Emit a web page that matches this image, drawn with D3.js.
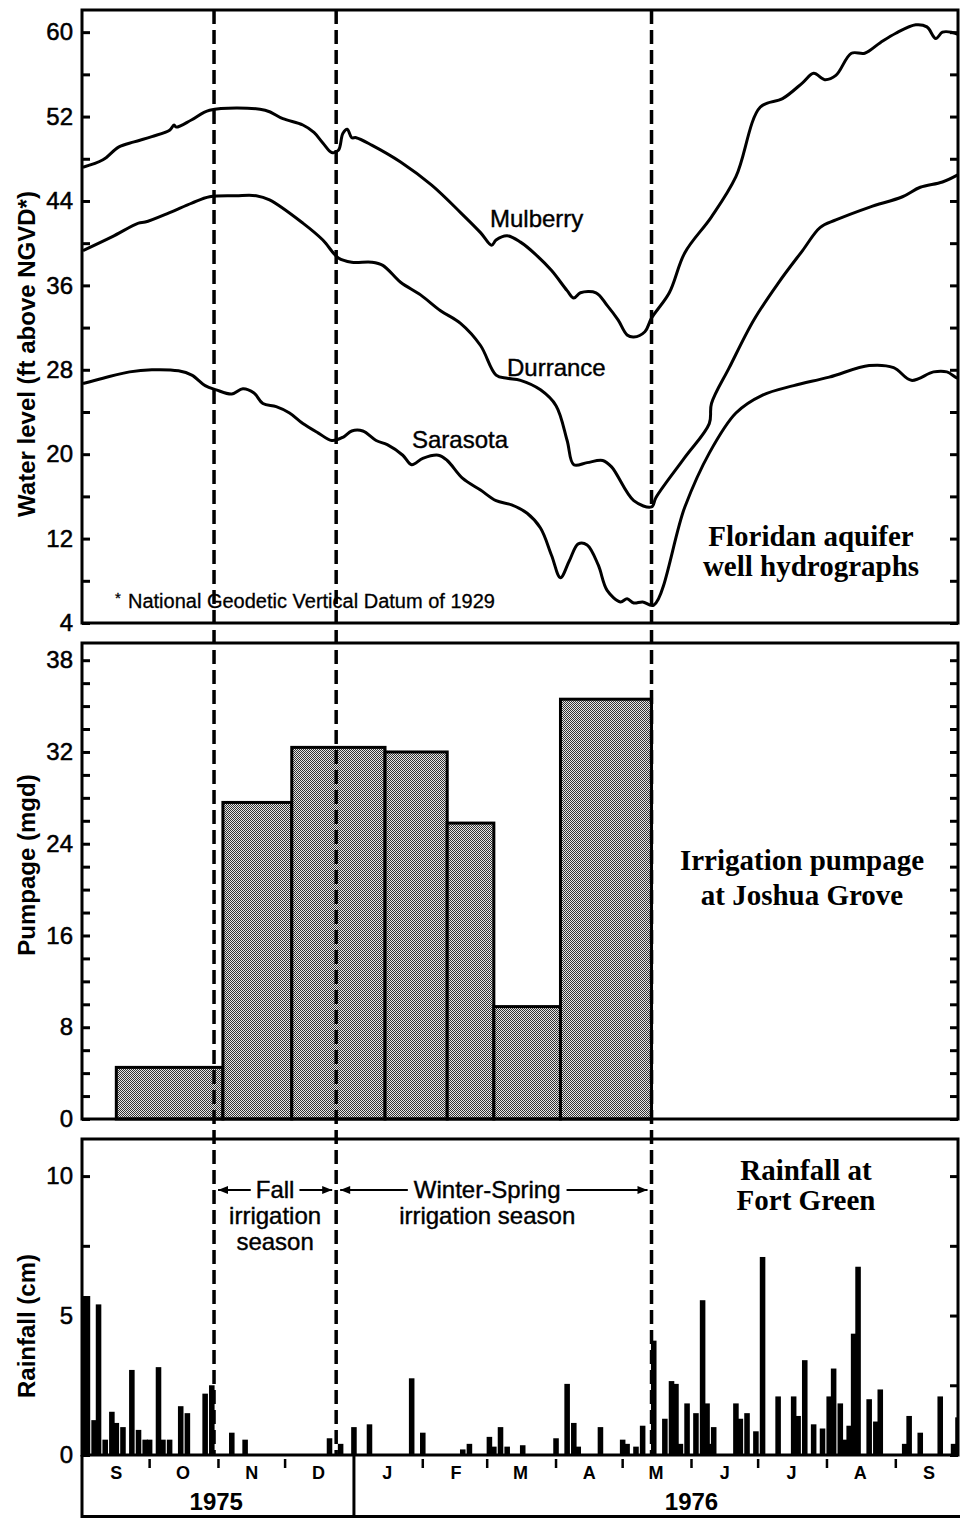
<!DOCTYPE html>
<html><head><meta charset="utf-8">
<script src="https://cdn.jsdelivr.net/npm/d3@7"></script>
<style>body{margin:0;background:#fff} svg{display:block}</style>
</head><body>
<svg id="chart" width="960" height="1518"></svg>
<script>
// ---------------- DATA ----------------
const mulberry = [
["1975-09-01",47.2],["1975-09-10",47.9],["1975-09-17",49.1],["1975-09-24",49.6],["1975-10-02",50.1],
["1975-10-10",50.7],["1975-10-12",51.2],["1975-10-13",51.0],["1975-10-20",51.7],["1975-10-28",52.6],
["1975-11-22",52.6],["1975-11-30",51.8],["1975-12-09",51.2],["1975-12-14",50.5],["1975-12-18",49.5],
["1975-12-22",48.6],["1975-12-25",48.8],["1975-12-27",50.4],["1975-12-29",50.8],["1975-12-31",50.0],
["1976-01-02",50.0],["1976-01-09",49.3],["1976-01-22",47.7],["1976-02-05",45.5],["1976-02-18",42.9],
["1976-02-27",41.0],["1976-03-03",39.8],["1976-03-05",40.3],["1976-03-10",40.7],["1976-03-16",40.1],
["1976-03-23",38.9],["1976-03-30",37.4],["1976-04-06",35.5],["1976-04-09",34.8],["1976-04-12",35.3],
["1976-04-19",35.3],["1976-04-24",34.1],["1976-04-29",32.7],["1976-05-03",31.3],["1976-05-06",31.1],
["1976-05-11",31.6],["1976-05-14",32.9],["1976-05-22",35.3],["1976-05-29",39.1],["1976-06-10",42.5],
["1976-06-21",46.3],["1976-07-02",52.9],["1976-07-12",53.7],["1976-07-21",55.2],["1976-07-26",56.1],
["1976-07-31",55.5],["1976-08-05",55.9],["1976-08-12",58.0],["1976-08-18",58.0],["1976-08-25",59.0],
["1976-09-01",59.9],["1976-09-10",60.7],["1976-09-15",60.5],["1976-09-19",59.4],["1976-09-22",60.0],
["1976-09-26",60.0],["1976-09-30",59.7]
];
const durrance = [
["1975-09-01",39.3],["1975-09-14",40.6],["1975-09-26",41.9],["1975-09-29",42.0],["1975-10-10",42.9],
["1975-10-20",43.8],["1975-10-28",44.4],["1975-11-09",44.5],["1975-11-18",44.5],["1975-11-24",44.1],
["1975-12-09",41.9],["1975-12-18",40.3],["1975-12-25",38.6],["1975-12-31",38.2],["1976-01-09",38.2],
["1976-01-14",37.9],["1976-01-22",36.3],["1976-01-31",35.1],["1976-02-09",33.6],["1976-02-18",32.4],
["1976-02-27",30.3],["1976-03-05",27.5],["1976-03-10",27.2],["1976-03-16",27.0],["1976-03-25",26.1],
["1976-04-01",24.6],["1976-04-06",21.3],["1976-04-09",19.0],["1976-04-15",19.2],["1976-04-22",19.4],
["1976-04-26",18.8],["1976-05-06",15.6],["1976-05-14",15.0],["1976-05-16",15.9],["1976-05-29",19.7],
["1976-06-09",22.9],["1976-06-10",24.8],["1976-06-18",28.2],["1976-06-29",32.7],["1976-07-10",36.2],
["1976-07-21",39.3],["1976-07-29",41.5],["1976-08-05",42.2],["1976-08-20",43.4],["1976-09-04",44.4],
["1976-09-12",45.3],["1976-09-22",45.8],["1976-09-30",46.6]
];
const sarasota = [
["1975-09-01",26.7],["1975-09-10",27.2],["1975-09-22",27.8],["1975-10-02",28.0],["1975-10-14",27.9],
["1975-10-20",27.5],["1975-10-26",26.5],["1975-10-31",26.1],["1975-11-07",25.7],["1975-11-12",26.2],
["1975-11-17",25.8],["1975-11-21",24.8],["1975-11-27",24.5],["1975-12-03",23.9],["1975-12-09",22.9],
["1975-12-16",22.0],["1975-12-22",21.3],["1975-12-27",21.6],["1975-12-31",22.2],["1976-01-05",22.2],
["1976-01-11",21.3],["1976-01-16",20.9],["1976-01-23",19.9],["1976-01-27",19.0],["1976-02-01",19.6],
["1976-02-08",19.9],["1976-02-12",19.4],["1976-02-19",17.7],["1976-02-27",16.6],["1976-03-05",15.6],
["1976-03-12",15.2],["1976-03-19",14.4],["1976-03-25",13.0],["1976-03-30",10.4],["1976-04-03",8.3],
["1976-04-07",9.9],["1976-04-11",11.5],["1976-04-15",11.4],["1976-04-20",9.5],["1976-04-24",7.1],
["1976-04-30",6.0],["1976-05-03",6.3],["1976-05-06",5.9],["1976-05-10",6.0],["1976-05-15",5.7],
["1976-05-29",15.0],["1976-06-09",20.1],["1976-06-21",23.9],["1976-07-03",25.6],["1976-07-17",26.5],
["1976-08-02",27.3],["1976-08-20",28.4],["1976-08-31",28.2],["1976-09-08",27.0],["1976-09-18",27.8],
["1976-09-24",27.8],["1976-09-29",27.2],["1976-09-30",27.5]
];
// Pumpage periods: start, end, mgd
const pumpStart = ["1975-09-16","1975-11-03","1975-12-04","1976-01-15","1976-02-12","1976-03-04","1976-04-03"];
const pumpEnd   = ["1975-11-03","1975-12-04","1976-01-15","1976-02-12","1976-03-04","1976-04-03","1976-05-14"];
const pumpValue = [4.5, 27.6, 32.4, 32.0, 25.8, 9.8, 36.6];
// Daily rainfall (cm)
const rainDates = ["1975-09-01","1975-09-03","1975-09-06","1975-09-08","1975-09-11","1975-09-14","1975-09-16",
"1975-09-19","1975-09-23","1975-09-26","1975-09-29","1975-10-01","1975-10-05","1975-10-07","1975-10-10",
"1975-10-15","1975-10-18","1975-10-26","1975-10-29","1975-11-07","1975-11-13","1975-12-21","1975-12-26",
"1976-01-01","1976-01-08","1976-01-27","1976-02-01","1976-02-19","1976-02-22","1976-03-02","1976-03-04",
"1976-03-07","1976-03-10","1976-03-17","1976-04-01","1976-04-06","1976-04-09","1976-04-11","1976-04-21",
"1976-05-01","1976-05-03","1976-05-07","1976-05-10","1976-05-15","1976-05-20","1976-05-23","1976-05-25",
"1976-05-27","1976-05-30","1976-06-03","1976-06-06","1976-06-08","1976-06-09","1976-06-11","1976-06-21",
"1976-06-23","1976-06-26","1976-06-30","1976-07-03","1976-07-10","1976-07-17","1976-07-19","1976-07-22",
"1976-07-26","1976-07-30","1976-08-02","1976-08-04","1976-08-07","1976-08-09","1976-08-11","1976-08-13",
"1976-08-15","1976-08-20","1976-08-23","1976-08-25","1976-09-05","1976-09-07","1976-09-12","1976-09-21",
"1976-09-27","1976-09-29"];
const rainValues = [5.7,5.7,1.25,5.4,0.55,1.55,1.15,
1.0,3.05,0.9,0.55,0.55,3.15,0.55,0.55,
1.75,1.5,2.2,2.5,0.8,0.55,0.6,0.4,
1.0,1.1,2.75,0.8,0.2,0.4,0.65,0.3,
1.0,0.3,0.35,0.6,2.55,1.15,0.3,1.0,
0.55,0.4,0.3,1.05,4.1,1.3,2.65,2.55,
0.4,1.85,1.5,5.55,1.85,0.4,1.0,1.85,
1.3,1.5,0.85,7.1,2.1,2.1,1.4,3.4,
1.1,0.95,2.1,3.1,1.85,0.55,1.05,4.35,
6.75,2.0,1.2,2.35,0.4,1.4,0.8,2.1,
0.4,1.35];
// Irrigation season boundaries
const seasonDates = ["1975-10-30","1975-12-24","1976-05-14"];
// Axis ticks
const monthLabels = ["S","O","N","D","J","F","M","A","M","J","J","A","S"];
const monthStarts = ["1975-09-01","1975-10-01","1975-11-01","1975-12-01","1976-01-01","1976-02-01","1976-03-01",
"1976-04-01","1976-05-01","1976-06-01","1976-07-01","1976-08-01","1976-09-01"];
const yearLabels = ["1975","1976"];
const yearLabelDates = ["1975-10-31","1976-06-01"];
const levelTicks = [4,8,12,16,20,24,28,32,36,40,44,48,52,56,60];
const levelLabelTicks = [4,12,20,28,36,44,52,60];
const pumpTicks = [0,2,4,6,8,10,12,14,16,18,20,22,24,26,28,30,32,34,36,38,40];
const pumpLabelTicks = [0,8,16,24,32,40];
const pumpTickLabels = ["0","8","16","24","32","38"];
const rainTicks = [0,2.5,5,7.5,10];
const rainLabelTicks = [0,5,10];

// ---------------- SETUP ----------------
const parse = d3.utcParse("%Y-%m-%d");
const svg = d3.select("#chart");
const SANS = "'Liberation Sans', Arial, Helvetica, sans-serif";
const SERIF = "'Liberation Serif', 'Times New Roman', serif";
const L = 82, R = 958;
const x = d3.scaleUtc().domain([parse("1975-09-01"), parse("1976-09-29")]).range([83, 958]);
const yTop = d3.scaleLinear().domain([4, 62.1]).range([623, 10]);
const yPump = d3.scaleLinear().domain([0, 41.5]).range([1119, 643]);
const yRain = d3.scaleLinear().domain([0, 11.33]).range([1455, 1139]);

const defs = svg.append("defs");
const pat = defs.append("pattern").attr("id","stipple").attr("width",2).attr("height",2)
  .attr("patternUnits","userSpaceOnUse");
pat.append("rect").attr("width",2).attr("height",2).attr("fill","#e6e6e6");
pat.append("rect").attr("x",0).attr("y",0).attr("width",1).attr("height",1).attr("fill","#333");
pat.append("rect").attr("x",1).attr("y",1).attr("width",1).attr("height",1).attr("fill","#333");
defs.append("clipPath").attr("id","plotclip").append("rect")
  .attr("x",L).attr("y",0).attr("width",R-L).attr("height",1518);

// ---------------- AXES ----------------
function styleAxis(g){
  g.select(".domain").remove();
  g.selectAll(".tick line").attr("stroke","#000").attr("stroke-width",3);
  g.selectAll(".tick text").attr("font-family",SANS).attr("font-size",24).attr("fill","#000")
    .attr("stroke","#000").attr("stroke-width",0.5);
}
function leftAxis(scale, ticks, fmt){
  svg.append("g").attr("transform",`translate(${L},0)`)
    .call(d3.axisLeft(scale).tickValues(ticks).tickSize(-8).tickPadding(9).tickFormat(fmt))
    .call(styleAxis);
  svg.append("g").attr("transform",`translate(${R},0)`)
    .call(d3.axisRight(scale).tickValues(ticks).tickSize(-8).tickFormat(""))
    .call(styleAxis);
}
leftAxis(yTop, levelTicks, d => levelLabelTicks.includes(d) ? d : "");
leftAxis(yPump, pumpTicks, d => { const i = pumpLabelTicks.indexOf(d); return i >= 0 ? pumpTickLabels[i] : ""; });
leftAxis(yRain, rainTicks, d => rainLabelTicks.includes(d) ? d : "");

// ---------------- PUMPAGE BARS ----------------
svg.append("g").selectAll("rect").data(pumpValue).join("rect")
  .attr("x",(d,i)=>x(parse(pumpStart[i])))
  .attr("width",(d,i)=>x(parse(pumpEnd[i]))-x(parse(pumpStart[i])))
  .attr("y",d=>yPump(d)).attr("height",d=>yPump(0)-yPump(d))
  .attr("fill","url(#stipple)").attr("stroke","#000").attr("stroke-width",3);

// ---------------- RAIN BARS ----------------
svg.append("g").attr("clip-path","url(#plotclip)").selectAll("rect").data(rainValues).join("rect")
  .attr("x",(d,i)=>{const t=parse(rainDates[i]); return x(t) - (x(d3.utcHour.offset(t,30))-x(t));})
  .attr("width",(d,i)=>{const t=parse(rainDates[i]); return 2*(x(d3.utcHour.offset(t,30))-x(t));})
  .attr("y",d=>yRain(d)).attr("height",d=>yRain(0)-yRain(d)).attr("fill","#000");

// ---------------- FRAMES ----------------
const frames = [[10,623],[643,1119],[1139,1455]];
frames.forEach(([t,b])=>{
  svg.append("rect").attr("x",L).attr("y",t).attr("width",R-L).attr("height",b-t)
    .attr("fill","none").attr("stroke","#000").attr("stroke-width",3);
});
// x-axis box
svg.append("path").attr("d",`M${L},1455 V1516.5 H960`).attr("fill","none").attr("stroke","#000").attr("stroke-width",3);
svg.append("line").attr("x1",x(parse("1976-01-01"))).attr("x2",x(parse("1976-01-01")))
  .attr("y1",1456).attr("y2",1517).attr("stroke","#000").attr("stroke-width",3);
svg.append("g").selectAll("line").data(monthStarts.filter((d,i)=>i>0 && d!=="1976-01-01")).join("line")
  .attr("x1",d=>x(parse(d))).attr("x2",d=>x(parse(d))).attr("y1",1459).attr("y2",1468)
  .attr("stroke","#000").attr("stroke-width",2.5);
svg.append("g").selectAll("text").data(monthLabels).join("text")
  .attr("x",(d,i)=>x(d3.utcDay.offset(parse(monthStarts[i]),15))).attr("y",1479)
  .attr("text-anchor","middle").attr("font-family",SANS).attr("font-weight","bold").attr("font-size",18)
  .text(d=>d);
svg.append("g").selectAll("text").data(yearLabels).join("text")
  .attr("x",(d,i)=>x(parse(yearLabelDates[i]))).attr("y",1510)
  .attr("text-anchor","middle").attr("font-family",SANS).attr("font-weight","bold").attr("font-size",24)
  .text(d=>d);

// ---------------- HYDROGRAPHS ----------------
const line = d3.line().x(d=>x(parse(d[0]))).y(d=>yTop(d[1])).curve(d3.curveCatmullRom.alpha(0.5));
svg.append("g").attr("clip-path","url(#plotclip)").selectAll("path").data([mulberry,durrance,sarasota]).join("path")
  .attr("d",line).attr("fill","none").attr("stroke","#000").attr("stroke-width",3)
  .attr("stroke-linejoin","round");

// ---------------- SEASON LINES ----------------
svg.append("g").selectAll("line").data(seasonDates).join("line")
  .attr("x1",d=>x(parse(d))).attr("x2",d=>x(parse(d))).attr("y1",10).attr("y2",1455)
  .attr("stroke","#000").attr("stroke-width",3.5).attr("stroke-dasharray","14,6");

// ---------------- TEXT ----------------
function txt(s, px, py, opts={}){
  const t = svg.append("text").attr("x",px).attr("y",py)
    .attr("font-family",opts.family||SANS).attr("font-size",opts.size||24)
    .attr("font-weight",opts.weight||"normal").attr("text-anchor",opts.anchor||"start")
    .attr("fill","#000").text(s);
  if (!opts.family) t.attr("stroke","#000").attr("stroke-width",0.4);
  return t;
}
txt("Mulberry", 490, 227);
txt("Durrance", 507, 376);
txt("Sarasota", 412, 448);
const fn = svg.append("text").attr("x",115).attr("y",608).attr("font-family",SANS).attr("font-size",20)
  .attr("stroke","#000").attr("stroke-width",0.3);
fn.append("tspan").attr("font-size",15).attr("dy",-5).text("*");
fn.append("tspan").attr("x",128).attr("dy",5).text("National Geodetic Vertical Datum of 1929");

txt("Floridan aquifer", 811, 546, {family:SERIF, size:29, weight:"bold", anchor:"middle"});
txt("well hydrographs", 811, 576, {family:SERIF, size:29, weight:"bold", anchor:"middle"});
txt("Irrigation pumpage", 802, 870, {family:SERIF, size:29, weight:"bold", anchor:"middle"});
txt("at Joshua Grove", 802, 905, {family:SERIF, size:29, weight:"bold", anchor:"middle"});
txt("Rainfall at", 806, 1180, {family:SERIF, size:29, weight:"bold", anchor:"middle"});
txt("Fort Green", 806, 1210, {family:SERIF, size:29, weight:"bold", anchor:"middle"});

// axis titles
function vtitle(s, px, py){
  svg.append("text").attr("transform",`translate(${px},${py}) rotate(-90)`)
    .attr("text-anchor","middle").attr("font-family",SANS).attr("font-weight","bold").attr("font-size",24).text(s);
}
vtitle("Water level (ft above NGVD*)", 35, 354);
vtitle("Pumpage (mgd)", 35, 865);
vtitle("Rainfall (cm)", 35, 1326);

// season annotations
const sx = seasonDates.map(d=>x(parse(d)));
const arrowY = 1190;
function arrow(x1, x2){ // tip at x2
  svg.append("line").attr("x1",x1).attr("x2",x2).attr("y1",arrowY).attr("y2",arrowY)
    .attr("stroke","#000").attr("stroke-width",2);
  const dir = x2 > x1 ? -1 : 1;
  svg.append("path").attr("d",`M${x2},${arrowY} L${x2+dir*10},${arrowY-4} L${x2+dir*10},${arrowY+4} Z`).attr("fill","#000");
}
const fallC = (sx[0]+sx[1])/2;
const fallT = txt("Fall", fallC, 1198, {anchor:"middle"});
txt("irrigation", fallC, 1224, {anchor:"middle"});
txt("season", fallC, 1250, {anchor:"middle"});
const fw = fallT.node().getComputedTextLength();
arrow(fallC - fw/2 - 5, sx[0] + 4);
arrow(fallC + fw/2 + 5, sx[1] - 4);
const winC = x(parse("1976-03-01"));
const winT = txt("Winter-Spring", winC, 1198, {anchor:"middle"});
txt("irrigation season", winC, 1224, {anchor:"middle"});
const ww = winT.node().getComputedTextLength();
arrow(winC - ww/2 - 6, sx[1] + 4);
arrow(winC + ww/2 + 6, sx[2] - 4);
</script>
</body></html>
